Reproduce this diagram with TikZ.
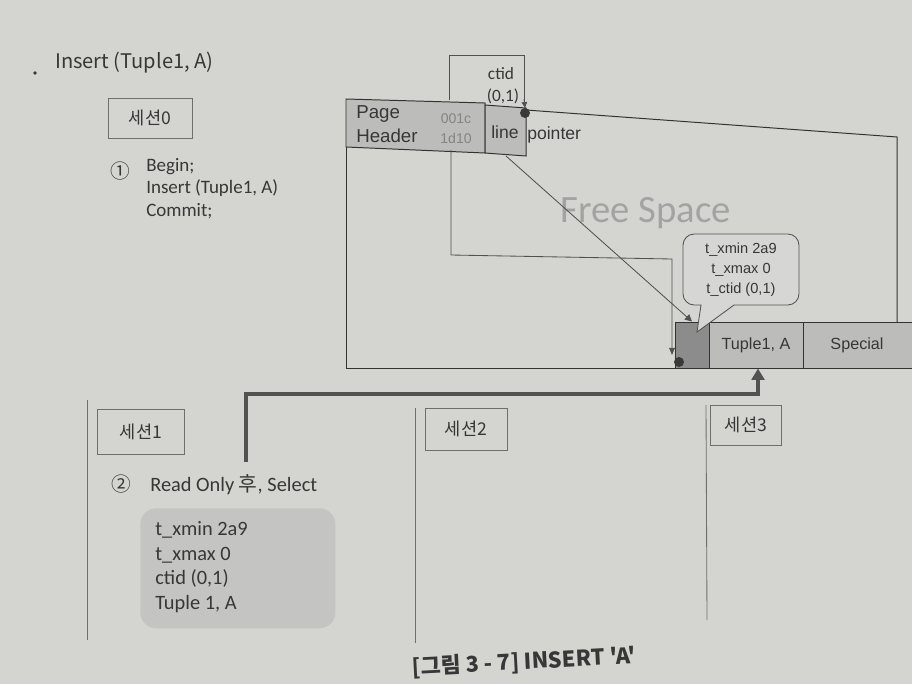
\documentclass[tikz,border=0pt]{standalone}
\usepackage{fontspec}
\setmainfont{Carlito}
\newfontfamily\kr{Noto Sans CJK KR}
\newfontfamily\ar{Liberation Sans}
\usetikzlibrary{arrows.meta}
\definecolor{paper}{RGB}{212,212,209}
\definecolor{hdr}{RGB}{188,188,186}
\definecolor{darkbox}{RGB}{140,140,140}
\definecolor{ink}{RGB}{50,50,50}
\definecolor{txt}{RGB}{55,55,55}
\definecolor{graybox}{RGB}{196,196,194}
\definecolor{callfill}{RGB}{214,214,212}
\definecolor{sepc}{RGB}{110,110,110}
\tikzset{
  sess/.style={draw=sepc, line width=0.6pt, inner sep=0, text=txt, font=\kr\fontsize{12.5}{14}\selectfont},
  pagefill/.style={fill=hdr, draw=ink, line width=0.7pt},
  cell/.style={draw=ink, line width=0.7pt, inner sep=0, minimum height=1.15cm, font=\ar\fontsize{11.5}{13}\selectfont, text=txt},
  dotc/.style={circle, fill=gray!45!black, inner sep=0, minimum size=0.25cm},
  sepline/.style={draw=sepc, line width=0.6pt},
  thin/.style={draw=ink!85, line width=0.6pt},
  body/.style={text=txt, inner sep=0, align=left, anchor=north west}
}
\begin{document}
\begin{tikzpicture}[x=0.025cm,y=-0.025cm]
\useasboundingbox (0,0) rectangle (912,684);
\clip (0,0) rectangle (912,684);
\fill[paper] (0,0) rectangle (912,684);

% heading
\fill[txt] (35,73) circle (1.9);
\node[anchor=west, text=txt, inner sep=0, font=\kr\fontsize{14.3}{16}\selectfont] (title) at (55,63) {Insert (Tuple1, A)};

% session 0
\node[sess, minimum width=2.1cm, minimum height=1cm] (s0) at (150,118) {세션0};
\node[text=txt, inner sep=0, font=\kr\fontsize{14}{16}\selectfont] (n1) at (120,171) {①};
\node[body, font=\fontsize{13.5}{16}\selectfont] (q1) at (146,158) {Begin;\\Insert (Tuple1, A)\\Commit;};

% page diagram
\node[text=gray!72, inner sep=0, font=\fontsize{27.5}{30}\selectfont] (free) at (646,213) {Free Space};
\draw[thin] (449,100) -- (449,55) -- (524,55) -- (524,104);
\node[text=txt, inner sep=0, font=\fontsize{12.3}{14}\selectfont] (ctid) at (501,74) {ctid};
\node[text=txt, inner sep=0, font=\fontsize{12.3}{14}\selectfont] (ctidv) at (503,96) {(0,1)};
\path[pagefill] (346,99) -- (485,103) -- (485,153) -- (346,147) -- cycle;
\path[pagefill] (485,105) -- (526,108) -- (526,156) -- (485,153) -- cycle;
\draw[ink, line width=0.7pt] (526,110) -- (897,137) -- (897,322);
\draw[ink, line width=0.7pt] (346,147) -- (346,368) -- (912,368);
\node[anchor=west, inner sep=0, text=txt, font=\ar\fontsize{13.3}{15}\selectfont] (pg) at (356,114) {Page};
\node[anchor=west, inner sep=0, text=txt, font=\ar\fontsize{13.3}{15}\selectfont] (hd) at (356,136) {Header};
\node[inner sep=0, text=black!48, font=\ar\fontsize{10}{11}\selectfont] (h1) at (456,119) {001c};
\node[inner sep=0, text=black!48, font=\ar\fontsize{10}{11}\selectfont] (h2) at (456,138) {1d10};
\node[inner sep=0, text=txt, font=\ar\fontsize{12.5}{14}\selectfont] (lp) at (505,132) {line};
\node[anchor=west, inner sep=0, text=txt, font=\ar\fontsize{12.5}{14}\selectfont] (ptr) at (527,135) {pointer};
\coordinate (lpb) at (506,156);

% tuple row
\node[cell, fill=darkbox, minimum width=0.85cm] (tupD) at (692,345) {};
\node[cell, fill=hdr, minimum width=2.35cm] (tupA) at (756,345) {Tuple1, A};
\node[cell, fill=hdr, minimum width=2.95cm, text width=2.7cm, align=center] (tupS) at (862,345) {\hspace*{-0.25cm}Special};

\node[dotc] (dotA) at (525,113) {};
\node[dotc] (dotB) at (679,362) {};
\coordinate (ctarr) at (524,99);
\draw[thin, -{Triangle[length=4pt,width=4pt]}] (ctarr) -- (dotA.north);
\draw[thin, -{Triangle[length=5pt,width=4pt]}] (451,150) -- (451,255) -- (672,259) -- (672,355);
\draw[thin, -{Triangle[length=5pt,width=5pt]}] (lpb) -- (tupD.north);

% callout
\filldraw[fill=callfill, draw=gray!65!black, line width=0.6pt]
  (701,305) [rounded corners=8] -- (683,305) -- (683,234) -- (799,234) -- (799,305) [sharp corners] -- (734,305) -- (697,332) -- cycle;
\node[inner sep=0, text=txt, align=center, font=\ar\fontsize{10.4}{14.2}\selectfont] (cinfo) at (741,270) {t\_xmin 2a9\\t\_xmax 0\\t\_ctid (0,1)};

% sessions below
\draw[sepline] (87,400) -- (87,640);
\draw[sepline] (415,408) -- (415,643);
\draw[sepline] (706,405) -- (707,620);
\node[sess, minimum width=2.175cm, minimum height=1.125cm] (s1) at (141,432) {세션1};
\node[sess, minimum width=2.05cm, minimum height=1.05cm] (s2) at (466,429) {세션2};
\node[sess, minimum width=1.775cm, minimum height=1cm] (s3) at (746,425) {세션3};

\node[text=txt, inner sep=0, font=\kr\fontsize{14}{16}\selectfont] (n2) at (121,484) {②};
\node[anchor=west, text=txt, inner sep=0, font=\fontsize{14.5}{16}\selectfont] (q2) at (150,485) {Read Only {\kr 후}, Select};

\node[fill=graybox, rounded corners=0.4cm, minimum width=4.875cm, minimum height=3cm, anchor=north west, inner sep=0] (res) at (140,508) {};
\node[body, font=\fontsize{14.5}{17.6}\selectfont] (rtext) at (155,521) {t\_xmin 2a9\\t\_xmax 0\\ctid (0,1)\\Tuple 1, A};

% thick connector
\coordinate (c1) at (246,462);
\draw[draw=black!68, line width=2.8pt, -{Triangle[length=8pt,width=9pt]}] (c1) |- (758,394) -- (tupA.south -| 758,0);

% caption
\node[text=txt, inner sep=0, rotate=3, font=\kr\bfseries\fontsize{15.5}{17}\selectfont] (cap) at (524,662) {[그림 3 - 7] INSERT 'A'};
\end{tikzpicture}
\end{document}
